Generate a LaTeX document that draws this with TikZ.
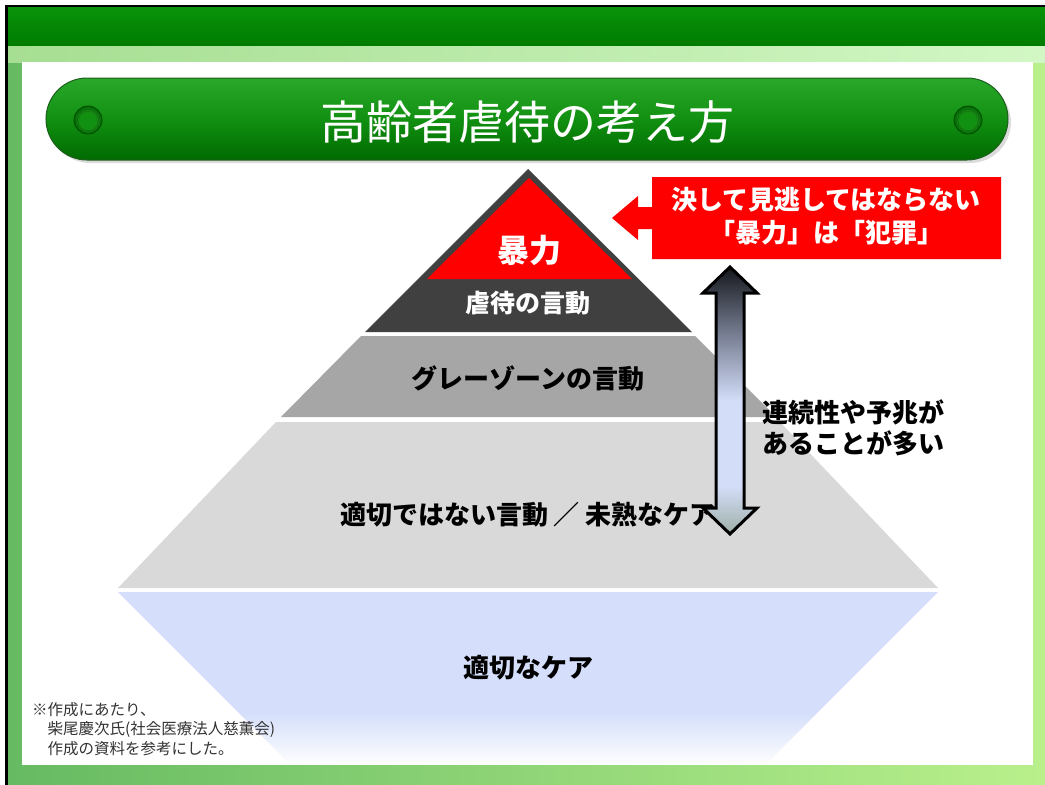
\documentclass[tikz,border=0pt]{standalone}
\usepackage{fontspec}
\setmainfont{Noto Sans CJK JP}
\usetikzlibrary{calc,fadings}
\definecolor{bgL}{HTML}{66BA62}
\definecolor{bgR}{HTML}{B9F08C}
\definecolor{hdrT}{HTML}{0A940A}
\definecolor{hdrB}{HTML}{007C00}
\definecolor{bandL}{HTML}{A6DE92}
\definecolor{bandR}{HTML}{D2F7C4}
\definecolor{pillT}{HTML}{2AA82A}
\definecolor{pillM}{HTML}{119011}
\definecolor{pillB}{HTML}{006A00}
\definecolor{pillE}{HTML}{1E5E1E}
\definecolor{darkband}{HTML}{404040}
\definecolor{grayband}{HTML}{A6A6A6}
\definecolor{lgrayband}{HTML}{D9D9D9}
\definecolor{blueband}{HTML}{D5DFFB}
\definecolor{redc}{HTML}{FF0000}
\definecolor{ag1}{HTML}{15171C}
\definecolor{ag2}{HTML}{7A8196}
\definecolor{ag3}{HTML}{D3DDF8}
\definecolor{ag4}{HTML}{9FB0A6}
\definecolor{notec}{HTML}{333333}
\pgfdeclareverticalshading{dblarrow}{100bp}{color(0bp)=(ag4); color(25bp)=(ag4); color(34bp)=(ag3); color(50bp)=(ag3); color(62bp)=(ag2); color(75bp)=(ag1); color(100bp)=(ag1)}
\tikzfading[name=fadedown, top color=transparent!100, bottom color=transparent!0]
\tikzset{
  lbl/.style={font=\bfseries\fontsize{26}{30}\selectfont, inner sep=0pt, anchor=center},
  wlbl/.style={lbl, text=white},
  note/.style={font=\fontsize{15.5}{19.5}\selectfont, text=notec, inner sep=0pt, anchor=north west, align=left},
}
\begin{document}
\begin{tikzpicture}[x=1pt,y=-1pt]
\useasboundingbox (0,0) rectangle (1045,785);
\fill[white] (0,0) rectangle (1045,785);
% background
\shade[left color=bgL, right color=bgR] (5,5) rectangle (1045,785);
\shade[left color=bandL, right color=bandR] (5,45) rectangle (1045,62);
\shade[top color=hdrT, bottom color=hdrB] (5,6) rectangle (1045,45);
\fill[black] (5,5) rectangle (8,785);
\fill[black] (5,5) rectangle (1045,7);
% white panel
\fill[white] (22,62) rectangle (1033,765);
% title pill
\fill[black!35, opacity=0.4, rounded corners=41] (49,82) rectangle (1011,163);
\shade[top color=pillT, bottom color=pillB, middle color=pillM, draw=pillE, line width=1pt, rounded corners=41] (46,78) rectangle (1008,160);
\foreach \cx in {88, 968}{
  \shade[inner color=pillM!80!white, outer color=pillB, draw=pillB!70!black, line width=0.8pt] (\cx,120) circle (14);
  \fill[pillM] (\cx,121) circle (9);
}
\node[text=white, font=\fontsize{46}{50}\selectfont, inner sep=0pt] (title) at (527,122) {高齢者虐待の考え方};
% pyramid
\fill[blueband] (118,592) -- (938,592) -- (766,764) -- (290,764) -- cycle;
\fill[white, path fading=fadedown] (100,712) rectangle (960,765);
\fill[lgrayband] (276,422) -- (780,422) -- (938,588) -- (118,588) -- cycle;
\fill[grayband] (361,336) -- (695,336) -- (776,417) -- (281,417) -- cycle;
\fill[darkband] (528,169) -- (692,332) -- (365,332) -- cycle;
\fill[redc] (529,178) -- (632,279) -- (427,279) -- cycle;
\node[wlbl, font=\bfseries\fontsize{32}{36}\selectfont] (bouryoku) at (529,250) {暴力};
\node[wlbl, font=\bfseries\fontsize{25}{30}\selectfont] (gyakutai) at (528,303) {虐待の言動};
\node[lbl] (gray) at (528,378) {グレーゾーンの言動};
\node[lbl] (futekisetsu) at (528,515) {適切ではない言動 ／ 未熟なケア};
\node[lbl] (tekisetsu) at (528,668) {適切なケア};
% red callout
\fill[redc] (612,218) -- (638,196) -- (638,207) -- (652,207) -- (652,177) -- (1001,177) -- (1001,259) -- (652,259) -- (652,229) -- (638,229) -- (638,240) -- cycle;
\node[wlbl, align=center, font=\bfseries\fontsize{26}{33}\selectfont] (callout) at (826,216) {決して見逃してはならない\\「暴力」は「犯罪」};
% double arrow
\shade[shading=dblarrow, draw=black, line width=3pt, line join=miter]
  (730,267) -- (757,293) -- (744,293) -- (744,508) -- (757,508) -- (730,534)
  -- (703,508) -- (716,508) -- (716,293) -- (703,293) -- cycle;
\node[lbl, anchor=west, align=left, font=\bfseries\fontsize{26}{31}\selectfont] (renzoku) at (762,428) {連続性や予兆が\\あることが多い};
% footnote
\node[note] (note) at (32,702) {※作成にあたり、\\　柴尾慶次氏(社会医療法人慈薫会)\\　作成の資料を参考にした。};
\end{tikzpicture}
\end{document}
